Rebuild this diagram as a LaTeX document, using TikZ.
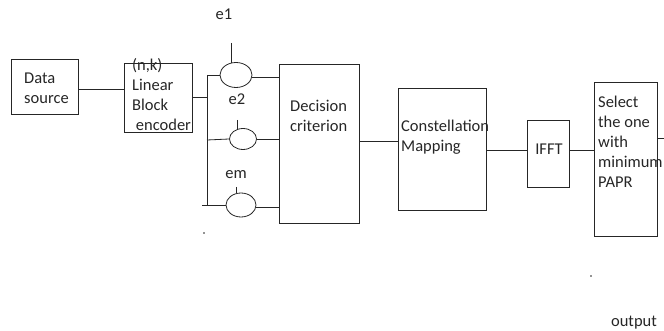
\documentclass[tikz,border=0pt]{standalone}
\usepackage{fontspec}
\setmainfont{Carlito}
\usetikzlibrary{shapes.geometric}
\begin{document}
\begin{tikzpicture}[x=1pt,y=-1pt,
  every node/.style={font=\fontsize{16.5}{20}\selectfont},
  blk/.style={draw=black!85, line width=0.8pt, anchor=north west, inner sep=0pt},
  ring/.style={draw=black!85, line width=0.8pt, ellipse, inner sep=0pt},
  txt/.style={anchor=base west, inner sep=0pt, align=left, text=black!85},
  wire/.style={draw=black!85, line width=0.8pt}]
\useasboundingbox (0,0) rectangle (664,331);
% boxes
\node[blk, minimum width=67pt, minimum height=55pt] (ds) at (11,59) {};
\node[blk, minimum width=68pt, minimum height=69pt] (enc) at (124,63) {};
\node[blk, minimum width=80pt, minimum height=159pt] (dec) at (279,64) {};
\node[blk, minimum width=88pt, minimum height=122pt] (con) at (398,88) {};
\node[blk, minimum width=42pt, minimum height=67pt] (ifft) at (527,120) {};
\node[blk, minimum width=63pt, minimum height=154pt] (sel) at (594,82) {};
% ellipses
\node[ring, minimum width=32pt, minimum height=25pt] (c1) at (236,75) {};
\node[ring, minimum width=27pt, minimum height=21pt] (c2) at (243,139) {};
\node[ring, minimum width=30pt, minimum height=24pt] (c3) at (241,205) {};
% texts (base anchor = baseline of the last line)
\node[txt] (tds) at (24,104) {Data\\source};
\node[txt] (tenc) at (132,131) {(n,k)\\Linear\\Block\\\ encoder};
\node[txt] (tdec) at (290,132) {Decision\\criterion};
\node[txt] (tcon) at (401,152) {Constellation\\Mapping};
\node[txt, anchor=base] (tifft) at (549,155) {IFFT};
\node[txt] (tsel) at (598,188) {Select\\the one\\with\\minimum\\PAPR};
\node[txt, anchor=base] (te1) at (224,20) {e1};
\node[txt, anchor=base] (te2) at (237,105) {e2};
\node[txt, anchor=base] (tem) at (236,179) {em};
\node[txt, anchor=base] (tout) at (634,326) {output};
% coordinates
\coordinate (bt) at (207,75);
\coordinate (bb) at (207,205);
\coordinate (b2) at (207,140);
\coordinate (b3) at (202,205);
\coordinate (t1) at (231,43);
\coordinate (t2) at (237,120);
\coordinate (t3) at (236,187);
\coordinate (out) at (664,138);
% connectors
\draw[wire] (ds.east |- 0,89) -- (enc.west |- 0,89);
\draw[wire] (enc.east |- 0,97) -- (bt |- 0,97);
\draw[wire] (bt) -- (bb);
\draw[wire] (bt) -- (c1.west);
\draw[wire] (b2) -- (c2.west);
\draw[wire] (b3) -- (c3.west);
\draw[wire] (t1) -- (t1 |- 0,63.5);
\draw[wire] (t2) -- (t2 |- 0,129.5);
\draw[wire] (t3) -- (t3 |- 0,193.5);
\draw[wire] (c1.east |- 0,77) -- (dec.west |- 0,77);
\draw[wire] (c2.east) -- (dec.west |- c2.east);
\draw[wire] (c3.east |- 0,207) -- (dec.west |- 0,207);
\draw[wire] (dec.east |- 0,141) -- (con.west |- 0,141);
\draw[wire] (con.east |- 0,150) -- (ifft.west |- 0,150);
\draw[wire] (ifft.east |- 0,150) -- (sel.west |- 0,150);
\draw[wire] (sel.east |- out) -- (out);
% stray dots
\fill[black!85] (204,233) circle (0.8);
\fill[black!85] (591,276) circle (0.8);
\end{tikzpicture}
\end{document}
